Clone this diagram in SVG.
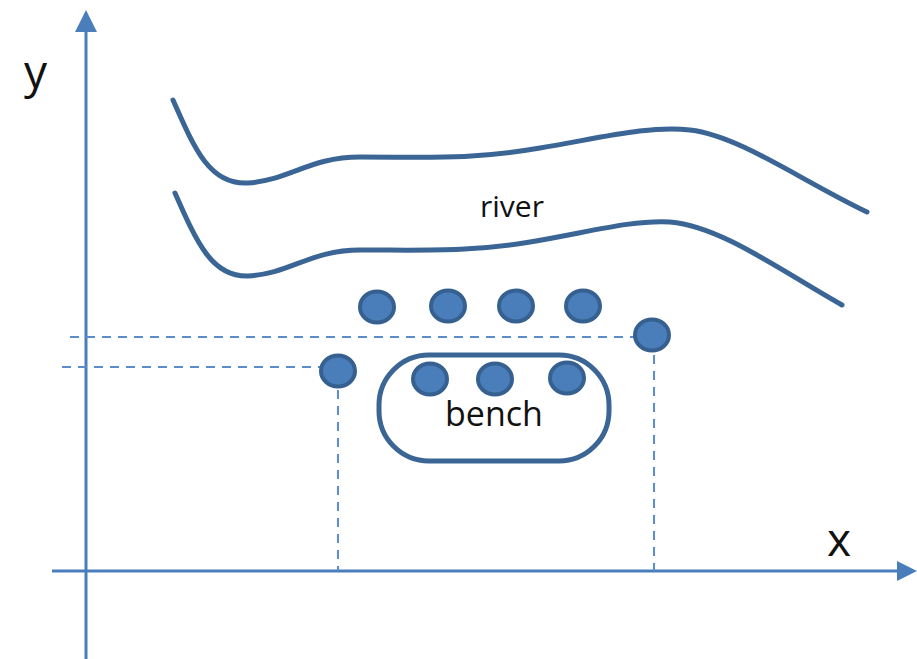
<svg xmlns="http://www.w3.org/2000/svg" width="917" height="659" viewBox="0 0 917 659">
  <style>
    .axis { stroke: #4a7ebb; stroke-width: 3; fill: none; }
    .guide { stroke: #5b8cce; stroke-width: 2; stroke-dasharray: 9 7; fill: none; }
    .bank { stroke: #3a6595; stroke-width: 5; fill: none; stroke-linecap: round; }
    .pt { fill: #4a7ebb; stroke: #36608f; stroke-width: 4; }
    .lbl { font-family: "Open Sans", "Liberation Sans", sans-serif; fill: #111; }
  </style>
  <defs>
    <marker id="arrow" viewBox="0 0 10 10" refX="9" refY="5" markerWidth="7" markerHeight="7" orient="auto" markerUnits="userSpaceOnUse">
      <path d="M0,0 L10,5 L0,10 z" fill="#4a7ebb"/>
    </marker>
  </defs>
  <rect width="917" height="659" fill="#fff"/>

  <!-- coordinate axes -->
  <g id="axes">
    <line class="axis" x1="86" y1="659" x2="86" y2="30"/>
    <path d="M86,10 L75,32 L97,32 z" fill="#4a7ebb"/>
    <line class="axis" x1="52" y1="571" x2="900" y2="571"/>
    <path d="M917,571 L897,561 L897,581 z" fill="#4a7ebb"/>
    <text class="lbl" x="24" y="88" font-size="46">y</text>
    <text class="lbl" x="827" y="556" font-size="46">x</text>
  </g>

  <!-- dashed projection lines -->
  <g id="connectors">
    <line class="guide" x1="70" y1="337" x2="634" y2="337"/>
    <line class="guide" x1="62" y1="367" x2="320" y2="367"/>
    <line class="guide" x1="338" y1="390" x2="338" y2="571"/>
    <line class="guide" x1="654" y1="355" x2="654" y2="571"/>
  </g>

  <!-- river banks -->
  <g id="river">
    <path class="bank" d="M173,100 C195,150 210,185 248,183 C290,180 310,157 360,157 C430,157 470,160 540,148 C600,138 650,125 690,130 C740,136 800,180 867,212"/>
    <path class="bank" d="M175,193 C197,243 212,277 248,276 C290,274 310,250 360,250 C430,250 470,252 530,242 C590,232 630,220 670,222 C720,226 780,270 842,305"/>
    <text class="lbl" x="512" y="217" font-size="30" text-anchor="middle">river</text>
  </g>

  <!-- bench -->
  <g id="bench">
    <rect x="379" y="355" width="230" height="106" rx="50" ry="50" fill="none" stroke="#3a6595" stroke-width="5"/>
    <text class="lbl" x="494" y="426" font-size="34" text-anchor="middle">bench</text>
  </g>

  <!-- points -->
  <g id="points">
    <ellipse class="pt" cx="377" cy="307" rx="17" ry="15.5"/>
    <ellipse class="pt" cx="448" cy="306" rx="17" ry="15.5"/>
    <ellipse class="pt" cx="516" cy="306" rx="17" ry="15.5"/>
    <ellipse class="pt" cx="583" cy="306" rx="17" ry="15.5"/>
    <ellipse class="pt" cx="652" cy="335" rx="17" ry="15.5"/>
    <ellipse class="pt" cx="338" cy="371" rx="17" ry="15.5"/>
    <ellipse class="pt" cx="430" cy="379" rx="17" ry="15.5"/>
    <ellipse class="pt" cx="495" cy="379" rx="17" ry="15.5"/>
    <ellipse class="pt" cx="567" cy="378" rx="17" ry="15.5"/>
  </g>
</svg>
